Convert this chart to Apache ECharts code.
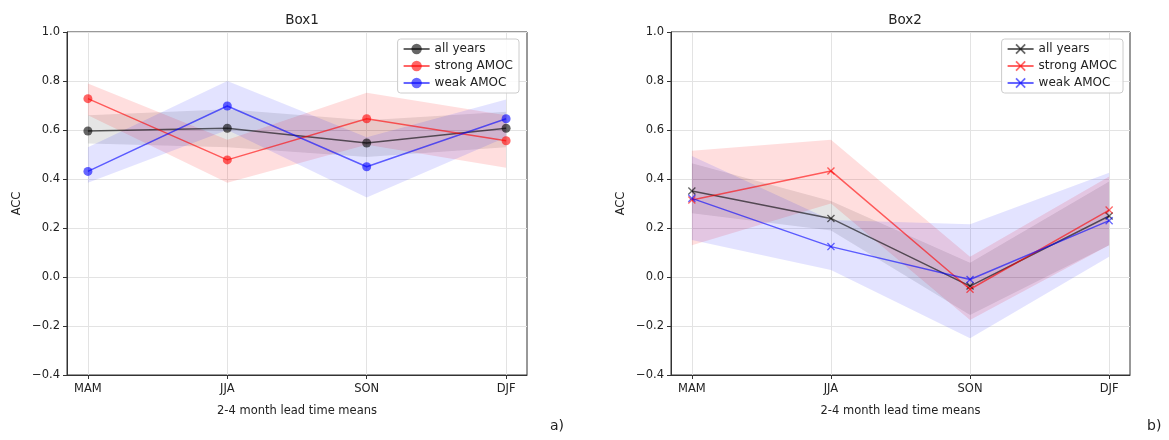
<!DOCTYPE html>
<html>
<head>
<meta charset="utf-8">
<script src="https://cdn.jsdelivr.net/npm/echarts@6/dist/echarts.min.js"></script>
<style>html,body{margin:0;padding:0;background:#fff;}#c{width:1169px;height:440px;}</style>
</head>
<body>
<div id="c"></div>
<script>
const categories = ['MAM', 'JJA', 'SON', 'DJF'];
const yTicks = [-0.4, -0.2, 0.0, 0.2, 0.4, 0.6, 0.8, 1.0];

// Box1
const box1All = [0.596, 0.607, 0.547, 0.607];
const box1AllLo = [0.545, 0.530, 0.490, 0.530];
const box1AllHi = [0.660, 0.685, 0.640, 0.675];
const box1Strong = [0.728, 0.478, 0.646, 0.556];
const box1StrongLo = [0.660, 0.385, 0.540, 0.446];
const box1StrongHi = [0.790, 0.560, 0.752, 0.660];
const box1Weak = [0.431, 0.698, 0.450, 0.646];
const box1WeakLo = [0.385, 0.600, 0.324, 0.570];
const box1WeakHi = [0.530, 0.800, 0.570, 0.725];

// Box2
const box2All = [0.351, 0.239, -0.037, 0.249];
const box2AllLo = [0.260, 0.190, -0.155, 0.130];
const box2AllHi = [0.464, 0.310, 0.058, 0.390];
const box2Strong = [0.314, 0.433, -0.050, 0.273];
const box2StrongLo = [0.130, 0.300, -0.175, 0.130];
const box2StrongHi = [0.515, 0.560, 0.083, 0.410];
const box2Weak = [0.321, 0.124, -0.010, 0.230];
const box2WeakLo = [0.151, 0.029, -0.250, 0.083];
const box2WeakHi = [0.494, 0.233, 0.215, 0.426];

const seriesNames = ['all years', 'strong AMOC', 'weak AMOC'];

const FONT = 'DejaVu Sans';
const lineColors = ['rgba(0,0,0,0.6)', 'rgba(255,0,0,0.6)', 'rgba(0,0,255,0.6)'];
const bandColors = ['rgba(0,0,0,0.10)', 'rgba(255,0,0,0.13)', 'rgba(0,0,255,0.11)'];
const xSymbol = 'path://M0,1.2L1.2,0L5,3.8L8.8,0L10,1.2L6.2,5L10,8.8L8.8,10L5,6.2L1.2,10L0,8.8L3.8,5Z';

const chart = echarts.init(document.getElementById('c'), null, {renderer: 'canvas'});

function band(idx, lo, hi, color) {
  return {
    type: 'custom', xAxisIndex: idx, yAxisIndex: idx, silent: true, z: 1,
    data: categories.map((c, i) => [i, lo[i], hi[i]]),
    encode: {x: 0, y: [1, 2]},
    renderItem: function (params, api) {
      if (params.dataIndex !== 0) return null;
      const pts = [];
      for (let i = 0; i < hi.length; i++) pts.push(api.coord([i, hi[i]]));
      for (let i = lo.length - 1; i >= 0; i--) pts.push(api.coord([i, lo[i]]));
      return {type: 'polygon', shape: {points: pts}, style: {fill: color, stroke: null}};
    }
  };
}

function line(idx, name, vals, color, symbol, size) {
  return {
    type: 'line', name: name, xAxisIndex: idx, yAxisIndex: idx, z: 3,
    data: vals.map((v, i) => [i, v]),
    symbol: symbol, symbolSize: size, showAllSymbol: true,
    lineStyle: {color: color, width: 1.5},
    itemStyle: {color: color, borderWidth: 0},
    emphasis: {disabled: true}, animation: false
  };
}

function xAxis(idx) {
  return {
    type: 'value', gridIndex: idx, min: -0.15, max: 3.15,
    name: '2-4 month lead time means', nameLocation: 'middle', nameGap: 30,
    nameTextStyle: {fontFamily: FONT, fontSize: 11.5, color: '#222'},
    axisLine: {show: true, onZero: false, lineStyle: {color: '#333', width: 1}},
    axisTick: {show: true, length: 4, customValues: [0, 1, 2, 3], lineStyle: {color: '#333'}},
    axisLabel: {customValues: [0, 1, 2, 3], margin: 8, fontFamily: FONT, fontSize: 11.5, color: '#222',
      formatter: v => categories[Math.round(v)] || ''},
    splitLine: {show: true, lineStyle: {color: '#e3e3e3', width: 1}}
  };
}

function yAxis(idx) {
  return {
    type: 'value', gridIndex: idx, min: -0.4, max: 1.0, interval: 0.2,
    name: 'ACC', nameLocation: 'middle', nameGap: 44, nameRotate: 90,
    nameTextStyle: {fontFamily: FONT, fontSize: 11.5, color: '#222'},
    axisLine: {show: true, onZero: false, lineStyle: {color: '#333', width: 1}},
    axisTick: {show: true, length: 4, lineStyle: {color: '#333'}},
    axisLabel: {margin: 7, fontFamily: FONT, fontSize: 11.5, color: '#222',
      formatter: v => { const s = v.toFixed(1); return s === '-0.0' ? '0.0' : s.replace('-', '\u2212'); }},
    splitLine: {show: true, lineStyle: {color: '#e3e3e3', width: 1}}
  };
}

function legend(prefix, right) {
  return {
    data: seriesNames.map(n => prefix + n), orient: 'vertical', right: right, top: 39,
    selectedMode: false, backgroundColor: 'rgba(255,255,255,0.85)', borderColor: '#cccccc', borderWidth: 1,
    borderRadius: 3, padding: [4, 6, 4, 5], itemWidth: 26, itemHeight: 13, itemGap: 5,
    textStyle: {fontFamily: FONT, fontSize: 12, color: '#222'},
    formatter: n => n.replace(prefix, '')
  };
}

const series = [];
const b1 = [[box1All, box1AllLo, box1AllHi], [box1Strong, box1StrongLo, box1StrongHi], [box1Weak, box1WeakLo, box1WeakHi]];
const b2 = [[box2All, box2AllLo, box2AllHi], [box2Strong, box2StrongLo, box2StrongHi], [box2Weak, box2WeakLo, box2WeakHi]];
b1.forEach((s, k) => series.push(band(0, s[1], s[2], bandColors[k])));
b2.forEach((s, k) => series.push(band(1, s[1], s[2], bandColors[k])));
b1.forEach((s, k) => series.push(line(0, seriesNames[k], s[0], lineColors[k], 'circle', 9)));
b2.forEach((s, k) => series.push(line(1, 'b:' + seriesNames[k], s[0], lineColors[k], xSymbol, 8)));

chart.setOption({
  animation: false,
  textStyle: {fontFamily: FONT},
  title: [
    {text: 'Box1', left: 297, top: 8, textAlign: 'center', textStyle: {fontFamily: FONT, fontSize: 13.5, fontWeight: 'normal', color: '#222'}},
    {text: 'Box2', left: 900, top: 8, textAlign: 'center', textStyle: {fontFamily: FONT, fontSize: 13.5, fontWeight: 'normal', color: '#222'}}
  ],
  grid: [
    {left: 67, right: 642, top: 32, bottom: 65, show: true, borderColor: '#333', borderWidth: 1, backgroundColor: 'transparent'},
    {left: 671, right: 39, top: 32, bottom: 65, show: true, borderColor: '#333', borderWidth: 1, backgroundColor: 'transparent'}
  ],
  xAxis: [xAxis(0), xAxis(1)],
  yAxis: [yAxis(0), yAxis(1)],
  legend: [legend('', 650), legend('b:', 46)],
  graphic: [
    {type: 'text', left: 550, top: 419, style: {text: 'a)', font: '14px "DejaVu Sans"', fill: '#222'}},
    {type: 'text', left: 1147, top: 419, style: {text: 'b)', font: '14px "DejaVu Sans"', fill: '#222'}}
  ],
  series: series
});
</script>
</body>
</html>
